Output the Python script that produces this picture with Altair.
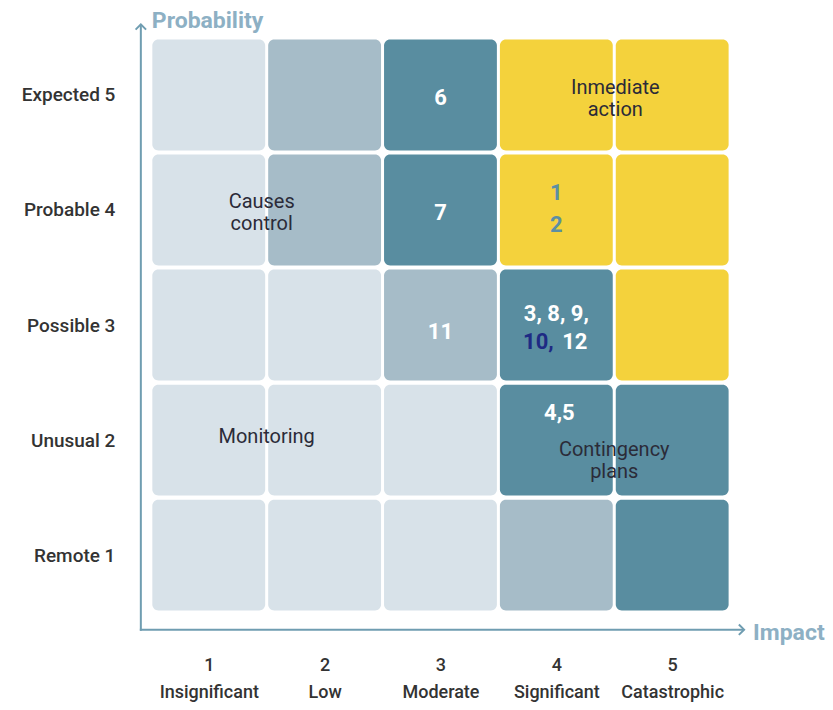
import altair as alt
import pandas as pd

# ---------------- data ----------------
impact_levels = [1, 2, 3, 4, 5]
impact_names = ["Insignificant", "Low", "Moderate", "Significant", "Catastrophic"]
prob_levels = [1, 2, 3, 4, 5]
prob_names = ["Remote", "Unusual", "Possible", "Probable", "Expected"]

# zone of each cell: probability level -> list over impact 1..5
zone_by_prob = {
    5: ["L", "M", "D", "Y", "Y"],
    4: ["L", "M", "D", "Y", "Y"],
    3: ["L", "L", "M", "D", "Y"],
    2: ["L", "L", "L", "D", "D"],
    1: ["L", "L", "L", "M", "D"],
}
zone_codes = ["L", "M", "D", "Y"]
zone_colors = ["#d8e2e9", "#a6bcc8", "#598da0", "#f4d23c"]

# risk ids placed in the matrix (impact / probability coordinates)
risk_text = ["6", "7", "11", "1", "2", "3, 8, 9,", "10,", "12", "4,5"]
risk_x = [3.0, 3.0, 3.0, 4.0, 4.0, 4.0, 3.845, 4.16, 4.026]
risk_y = [4.97, 3.97, 2.94, 4.146, 3.868, 3.095, 2.85, 2.85, 2.236]
risk_color = ["#ffffff", "#ffffff", "#ffffff", "#5c8fa3", "#5c8fa3",
              "#ffffff", "#1e2a84", "#ffffff", "#ffffff"]

# zone annotations
zone_text = ["Inmediate", "action", "Causes", "control", "Monitoring",
             "Contingency", "plans"]
zone_x = [4.509, 4.509, 1.457, 1.457, 1.5, 4.5, 4.5]
zone_y = [5.057, 4.866, 4.068, 3.877, 2.028, 1.915, 1.724]

titles = ["Probability", "Impact"]

# ---------------- tables ----------------
rows = []
for p in prob_levels:
    for i in impact_levels:
        rows.append({"impact": i, "prob": p, "zone": zone_by_prob[p][i - 1]})
cells = pd.DataFrame(rows)
HW, HH = 0.487, 0.482
cells["x0"] = cells["impact"] - HW
cells["x1"] = cells["impact"] + HW
cells["y0"] = cells["prob"] - HH
cells["y1"] = cells["prob"] + HH

risks = pd.DataFrame({"t": risk_text, "x": risk_x, "y": risk_y, "c": risk_color})
zones = pd.DataFrame({"t": zone_text, "x": zone_x, "y": zone_y})

FONT = "Roboto"
AX = "#6f9db1"
TITLE_C = "#8db0c4"

xs = alt.Scale(domain=[0.5, 5.5], nice=False, zero=False)
ys = alt.Scale(domain=[0.5, 5.5], nice=False, zero=False)

names_x = "[" + ",".join("'%s'" % n for n in impact_names) + "]"
names_y = "[" + ",".join("'%s %d'" % (n, k) for n, k in zip(prob_names, prob_levels)) + "]"

x_axis = alt.Axis(values=impact_levels, domain=False, ticks=False, grid=False,
                  labelExpr="[format(datum.value,'d'), %s[datum.value-1]]" % names_x,
                  labelFont=FONT, labelFontSize=18, labelColor="#333333",
                  labelFontWeight=500, labelPadding=44, labelLineHeight=27,
                  title=None)
y_axis = alt.Axis(values=prob_levels, domain=False, ticks=False, grid=False,
                  labelExpr="%s[datum.value-1]" % names_y,
                  labelFont=FONT, labelFontSize=19, labelColor="#333333",
                  labelFontWeight=500, labelPadding=36, title=None)

rects = alt.Chart(cells).mark_rect(cornerRadius=6).encode(
    x=alt.X("x0:Q", scale=xs, axis=x_axis),
    x2="x1:Q",
    y=alt.Y("y0:Q", scale=ys, axis=y_axis),
    y2="y1:Q",
    color=alt.Color("zone:N", scale=alt.Scale(domain=zone_codes, range=zone_colors),
                    legend=None),
)

risk_layer = alt.Chart(risks).mark_text(font=FONT, fontSize=22, fontWeight="bold",
                                        baseline="middle", align="center").encode(
    x=alt.X("x:Q", scale=xs, axis=x_axis),
    y=alt.Y("y:Q", scale=ys, axis=y_axis),
    text="t:N",
    color=alt.Color("c:N", scale=None),
)

zone_layer = alt.Chart(zones).mark_text(font=FONT, fontSize=20, color="#2b2b38",
                                        baseline="middle", align="center").encode(
    x=alt.X("x:Q", scale=xs, axis=x_axis),
    y=alt.Y("y:Q", scale=ys, axis=y_axis),
    text="t:N",
)

# axis arrows (decoration in pixel space)
one = pd.DataFrame({"a": [0]})
vline = alt.Chart(one).mark_rule(color=AX, strokeWidth=2).encode(
    x=alt.value(-10), y=alt.value(-13), y2=alt.value(594))
hline = alt.Chart(one).mark_rule(color=AX, strokeWidth=2).encode(
    x=alt.value(-11), x2=alt.value(594), y=alt.value(593))
up_arrow = alt.Chart(one).mark_point(
    shape="M-1,1L0,0L1,1", filled=False, color=AX, strokeWidth=2, size=110, opacity=1
).encode(x=alt.value(-10), y=alt.value(-13))
right_arrow = alt.Chart(one).mark_point(
    shape="M-1,-1L0,0L-1,1", filled=False, color=AX, strokeWidth=2, size=110, opacity=1
).encode(x=alt.value(594), y=alt.value(593))

ptitle = alt.Chart(pd.DataFrame({"t": [titles[0]]})).mark_text(
    font=FONT, fontSize=23, fontWeight="bold", color=TITLE_C, align="left",
    baseline="middle").encode(x=alt.value(1), y=alt.value(-16), text="t:N")
ititle = alt.Chart(pd.DataFrame({"t": [titles[1]]})).mark_text(
    font=FONT, fontSize=23, fontWeight="bold", color=TITLE_C, align="left",
    baseline="middle").encode(x=alt.value(603), y=alt.value(596), text="t:N")

chart = alt.layer(rects, risk_layer, zone_layer, vline, hline, up_arrow, right_arrow,
                  ptitle, ititle).properties(
    width=580, height=576,
    background="#ffffff",
    autosize=alt.AutoSizeParams(type="none"),
    padding={"left": 143, "top": 29, "right": 95, "bottom": 90},
).configure_view(strokeWidth=0, stroke="transparent")

chart.save("out.html", embed_options={"renderer": "svg", "actions": False})
